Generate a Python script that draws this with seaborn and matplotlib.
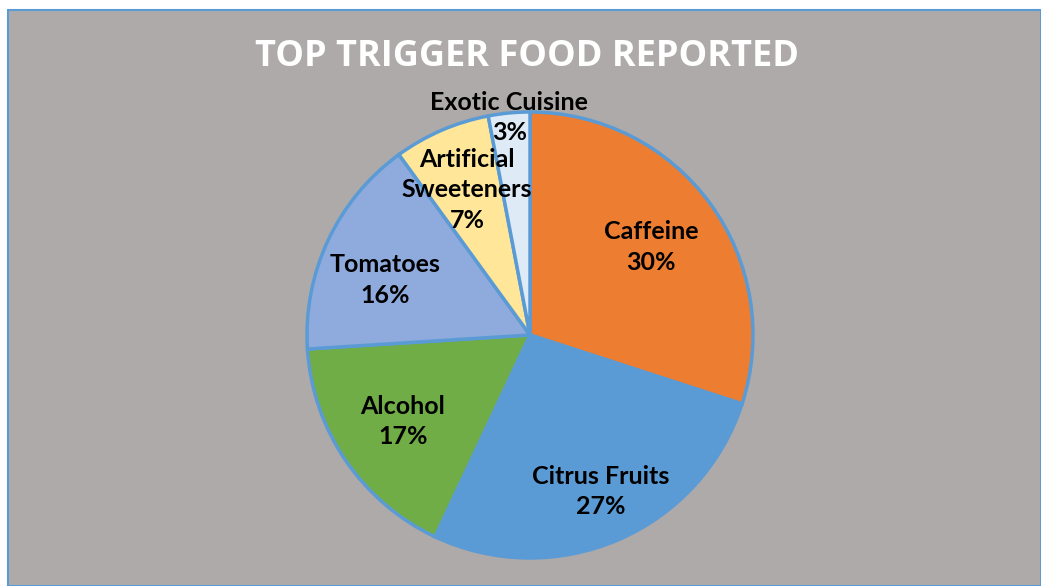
import numpy as np
import matplotlib
matplotlib.use("Agg")
import matplotlib.pyplot as plt
import seaborn as sns
from matplotlib.patches import Rectangle

# data
foods = ["Caffeine", "Citrus Fruits", "Alcohol", "Tomatoes", "Artificial\nSweeteners", "Exotic Cuisine"]
shares = [30, 27, 17, 16, 7, 3]
title = "TOP TRIGGER FOOD REPORTED"

#slice colours, excel office theme
colors = sns.color_palette(["#ED7D31", "#5B9BD5", "#70AD47", "#8FAADC", "#FFE699", "#DEEBF7"])

sns.set_theme(style="white")
plt.rcParams["font.family"] = ["Lato", "DejaVu Sans"]

fig = plt.figure(figsize=(10.41, 5.86), dpi=100)
fig.patch.set_facecolor("white")

#gray chart area with thin blue frame
bg = Rectangle((8/1041, 0), 1 - 8/1041, 1 - 10/586, transform=fig.transFigure,
               facecolor="#AEAAAA", edgecolor="#5B9BD5", linewidth=1.5, zorder=-5)
fig.add_artist(bg)

fig.text(0.506, 0.903, title, ha="center", va="center", color="white",
         fontsize=26, fontweight="bold", family=["Open Sans", "DejaVu Sans"])

# pie axes, centre at about (530,335) px, radius 223 px
r = 223
ax = fig.add_axes([(530 - r)/1041, (586 - 335 - r)/586, 2*r/1041, 2*r/586])
ax.set_facecolor("none")
wedges, _ = ax.pie(shares, colors=colors, startangle=90, counterclock=False,
                   wedgeprops=dict(edgecolor="#5B9BD5", linewidth=2.5))
ax.set_aspect("equal")
ax.set_xlim(-1, 1)
ax.set_ylim(-1, 1)
ax.axis("off")

#label placement: distance from centre (fraction of radius) and small angle nudge
label_dist = [0.67, 0.77, 0.69, 0.695, 0.71, 0.98]
label_nudge = [0, 1, 0, 4.5, 0, 0]
for w, name, val, d, nd in zip(wedges, foods, shares, label_dist, label_nudge):
    ang = np.deg2rad((w.theta1 + w.theta2) / 2 + nd)
    ax.text(d*np.cos(ang), d*np.sin(ang), f"{name}\n{val}%", ha="center", va="center",
            fontsize=18, fontweight="bold", color="black", linespacing=1.4)

fig.savefig("out.png", dpi=100, facecolor=fig.get_facecolor())
